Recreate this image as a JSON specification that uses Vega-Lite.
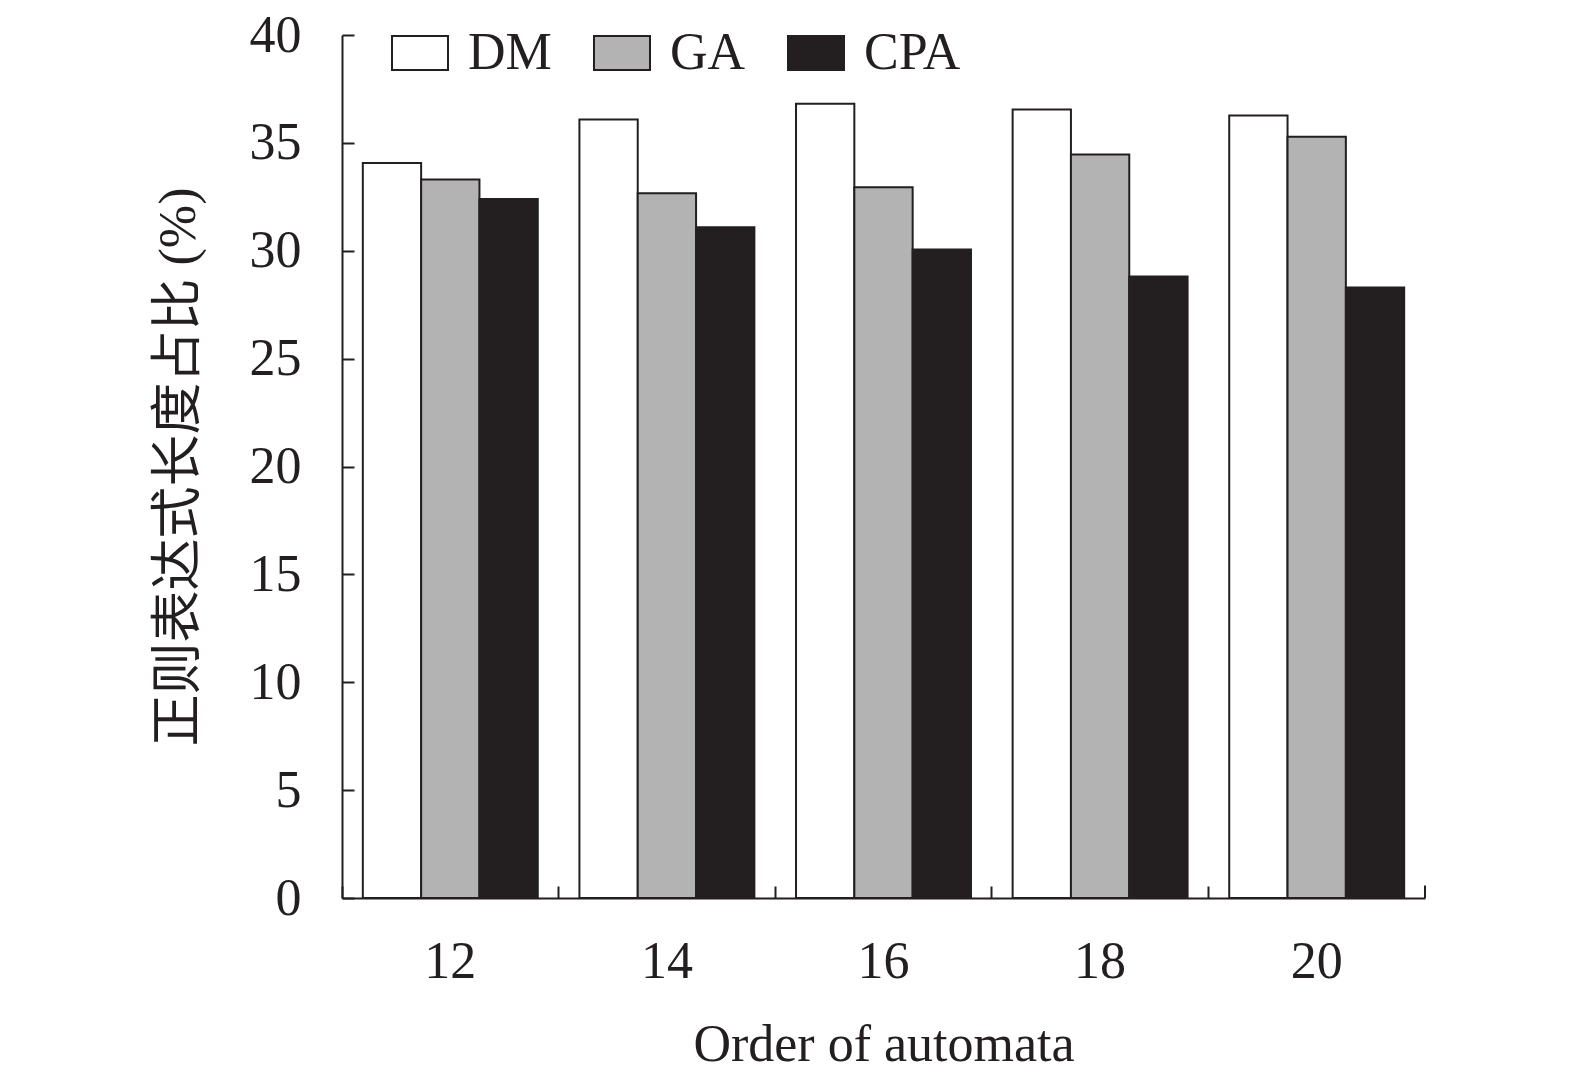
{
  "$schema": "https://vega.github.io/schema/vega-lite/v6.json",
  "width": 1083,
  "height": 863,
  "autosize": "none",
  "padding": {"left": 342, "top": 35, "right": 150, "bottom": 185},
  "background": "white",
  "data": {
    "values": [
      {"order": 12, "method": "DM", "value": 34.07},
      {"order": 12, "method": "GA", "value": 33.3},
      {"order": 12, "method": "CPA", "value": 32.4},
      {"order": 14, "method": "DM", "value": 36.08},
      {"order": 14, "method": "GA", "value": 32.66},
      {"order": 14, "method": "CPA", "value": 31.09},
      {"order": 16, "method": "DM", "value": 36.81},
      {"order": 16, "method": "GA", "value": 32.94},
      {"order": 16, "method": "CPA", "value": 30.06},
      {"order": 18, "method": "DM", "value": 36.55},
      {"order": 18, "method": "GA", "value": 34.46},
      {"order": 18, "method": "CPA", "value": 28.81},
      {"order": 20, "method": "DM", "value": 36.27},
      {"order": 20, "method": "GA", "value": 35.28},
      {"order": 20, "method": "CPA", "value": 28.3}
    ]
  },
  "layer": [
    {
      "mark": {"type": "bar", "stroke": "#231f20", "strokeWidth": 2},
      "encoding": {
        "x": {
          "field": "order",
          "type": "ordinal",
          "title": "Order of automata",
          "scale": {"paddingInner": 0, "paddingOuter": 0},
          "axis": {
            "bandPosition": 0,
            "labelAngle": 0,
            "tickSize": -12,
            "labelPadding": 50,
            "titlePadding": 32
          }
        },
        "xOffset": {
          "field": "method",
          "type": "nominal",
          "sort": ["DM", "GA", "CPA"],
          "scale": {"paddingInner": 0, "paddingOuter": 0.357}
        },
        "y": {
          "field": "value",
          "type": "quantitative",
          "title": "正则表达式长度占比 (%)",
          "scale": {"domain": [0, 40], "nice": false},
          "axis": {
            "values": [0, 5, 10, 15, 20, 25, 30, 35, 40],
            "tickSize": -12,
            "labelPadding": 53,
            "titlePadding": 44,
            "grid": false
          }
        },
        "color": {
          "field": "method",
          "type": "nominal",
          "scale": {"domain": ["DM", "GA", "CPA"], "range": ["#ffffff", "#b3b3b3", "#231f20"]},
          "legend": {
            "title": null,
            "orient": "none",
            "direction": "horizontal",
            "legendX": 49,
            "legendY": -11,
            "padding": 0,
            "symbolType": "M-1,-0.607H1V0.607H-1Z",
            "symbolSize": 3136,
            "symbolStrokeColor": "#231f20",
            "symbolStrokeWidth": 2,
            "symbolOpacity": 1,
            "labelFont": "Liberation Serif",
            "labelFontSize": 52,
            "labelColor": "#231f20",
            "labelOffset": 19,
            "columnPadding": 38
          }
        }
      }
    },
    {
      "data": {"values": [{}]},
      "mark": {"type": "rule", "color": "#231f20", "strokeWidth": 2},
      "encoding": {
        "x": {"datum": 20, "type": "ordinal", "bandPosition": 1},
        "y": {"datum": 0, "type": "quantitative"},
        "y2": {"datum": 0.58}
      }
    }
  ],
  "config": {
    "view": {"stroke": null},
    "font": "Liberation Serif",
    "axis": {
      "domainColor": "#231f20",
      "domainWidth": 2,
      "tickColor": "#231f20",
      "tickWidth": 2,
      "labelFont": "Liberation Serif",
      "labelFontSize": 52,
      "labelColor": "#231f20",
      "titleFont": "Liberation Serif, Noto Sans CJK SC",
      "titleFontSize": 52,
      "titleFontWeight": "normal",
      "titleColor": "#231f20"
    }
  }
}
